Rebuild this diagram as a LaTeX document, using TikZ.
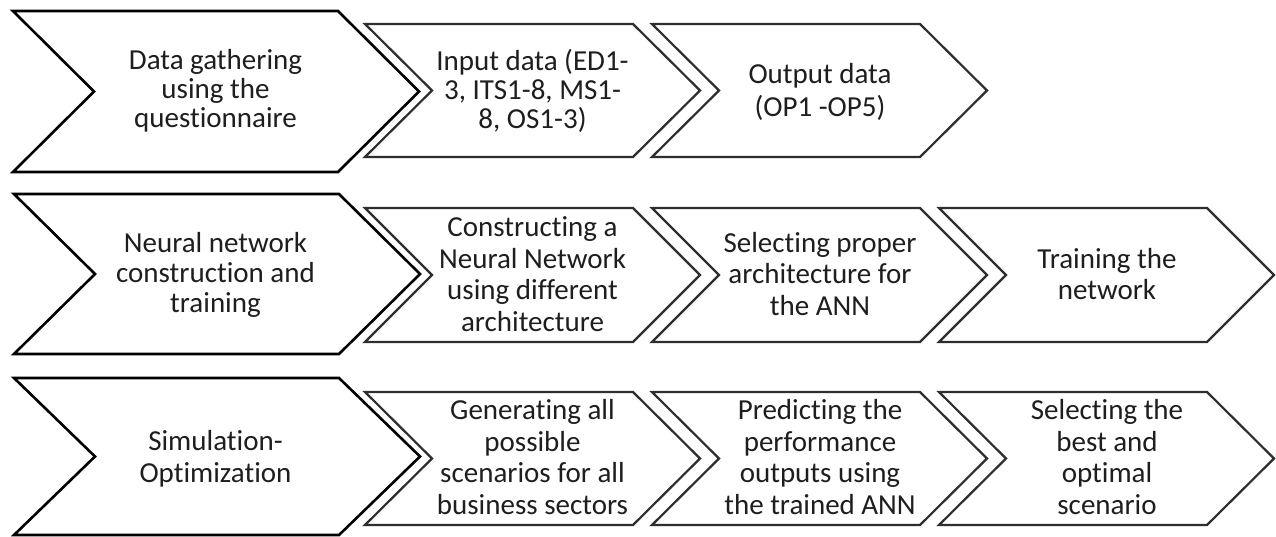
\documentclass[tikz,border=0pt]{standalone}
\usepackage{fontspec}
\setmainfont{Carlito}[RawFeature=-liga]
\definecolor{txt}{HTML}{1E1E1E}
\definecolor{smline}{HTML}{2E2E2E}
\newcommand{\chevshape}[6]{% style, x0, top, bottom, body width, slant
  \draw[#1] (#2,#3) -- ({#2+#5},#3) -- ({#2+#5+#6},{(#3+#4)/2}) -- ({#2+#5},#4) -- (#2,#4) -- ({#2+#6},{(#3+#4)/2}) -- cycle;}
\begin{document}
\begin{tikzpicture}[x=1pt,y=-1pt,
  bigchev/.style={draw=black,line width=2.6pt,line join=miter,fill=white},
  smallchev/.style={draw=smline,line width=2.2pt,line join=miter,fill=white},
  lbl/.style={align=center,text=txt,inner sep=0pt,font=\fontsize{29}{31.5}\selectfont},
  tight/.style={font=\fontsize{29}{29}\selectfont}]
\useasboundingbox (0,0) rectangle (1276,537);
% row 1
\chevshape{bigchev}{13}{11}{172}{325}{81}
\chevshape{smallchev}{365}{24}{157}{268}{67}
\chevshape{smallchev}{652}{24}{157}{268}{67}
% row 2
\chevshape{bigchev}{14}{194}{354}{325}{81}
\chevshape{smallchev}{365}{208}{342}{268}{67}
\chevshape{smallchev}{652}{208}{342}{268}{67}
\chevshape{smallchev}{939}{208}{342}{268}{67}
% row 3
\chevshape{bigchev}{14}{378}{535}{325}{81}
\chevshape{smallchev}{365}{392}{525}{268}{67}
\chevshape{smallchev}{652}{392}{525}{268}{67}
\chevshape{smallchev}{939}{392}{525}{268}{67}
% texts
\node[lbl,tight] (a1) at (215.5,91) {Data gathering\\using the\\questionnaire};
\node[lbl,tight] (a2) at (532.5,91) {Input data (ED1-\\3, ITS1-8, MS1-\\8, OS1-3)};
\node[lbl,font=\fontsize{29}{33}\selectfont] (a3) at (820,92) {Output data\\(OP1 -OP5)};
\node[lbl,font=\fontsize{29}{30}\selectfont] (b1) at (215.5,275) {Neural network\\construction and\\training};
\node[lbl] (b2) at (532.5,274) {Constructing a\\Neural Network\\using different\\architecture};
\node[lbl] (b3) at (820,274) {Selecting proper\\architecture for\\the ANN};
\node[lbl] (b4) at (1107,274) {Training the\\network};
\node[lbl] (c1) at (215.5,459) {Simulation-\\Optimization};
\node[lbl] (c2) at (532.5,457) {Generating all\\possible\\scenarios for all\\business sectors};
\node[lbl] (c3) at (820,457) {Predicting the\\performance\\outputs using\\the trained ANN};
\node[lbl] (c4) at (1107,457) {Selecting the\\best and\\optimal\\scenario};
\end{tikzpicture}
\end{document}
